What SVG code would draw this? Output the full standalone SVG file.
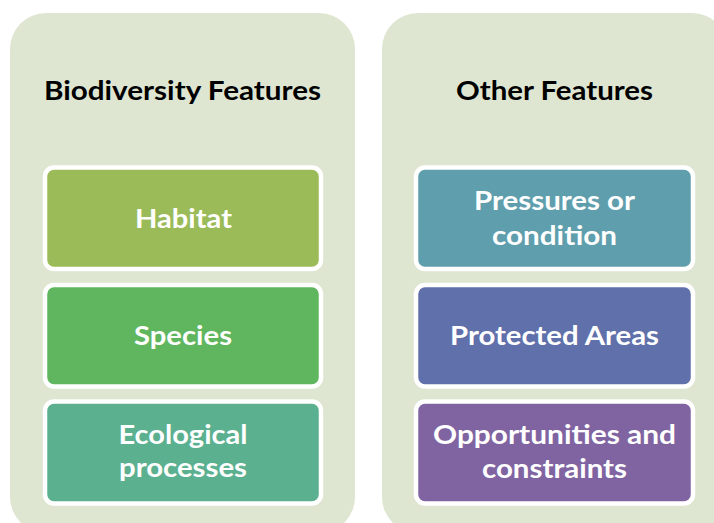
<svg xmlns="http://www.w3.org/2000/svg" width="714" height="523" viewBox="0 0 714 523">
<style>
.panel{fill:#DEE6D2}
.box{stroke:#FFFFFF;stroke-width:4.5}
.title{font-family:Lato,"Liberation Sans",sans-serif;font-weight:bold;font-size:26px;fill:#000000;text-anchor:middle}
.lbl{font-family:Lato,"Liberation Sans",sans-serif;font-weight:bold;font-size:26px;fill:#FFFFFF;text-anchor:middle}
</style>
<rect width="714" height="523" fill="#FFFFFF"/>
<g id="panel-biodiversity">
<rect class="panel" x="10" y="13" width="345" height="520" rx="36"/>
<text class="title" x="182.5" y="99.5" textLength="277" lengthAdjust="spacingAndGlyphs">Biodiversity Features</text>
</g>
<g id="panel-other">
<rect class="panel" x="382" y="13" width="346" height="520" rx="36"/>
<text class="title" x="554.5" y="99.5" textLength="197" lengthAdjust="spacingAndGlyphs">Other Features</text>
</g>
<g id="habitat">
<rect class="box" x="45" y="167.5" width="276" height="101.5" rx="9" fill="#9BBB59"/>
<text class="lbl" x="183.5" y="228" textLength="97" lengthAdjust="spacingAndGlyphs">Habitat</text>
</g>
<g id="species">
<rect class="box" x="45" y="285" width="276" height="101.5" rx="9" fill="#60B65E"/>
<text class="lbl" x="183" y="344.5" textLength="98" lengthAdjust="spacingAndGlyphs">Species</text>
</g>
<g id="ecological">
<rect class="box" x="45" y="401.5" width="276" height="102" rx="9" fill="#5BB08F"/>
<text class="lbl" x="183" y="443.5" textLength="129" lengthAdjust="spacingAndGlyphs">Ecological</text>
<text class="lbl" x="183" y="477" textLength="128" lengthAdjust="spacingAndGlyphs">processes</text>
</g>
<g id="pressures">
<rect class="box" x="416" y="167.5" width="277" height="101.5" rx="9" fill="#5F9EAD"/>
<text class="lbl" x="554.5" y="210" textLength="161" lengthAdjust="spacingAndGlyphs">Pressures or</text>
<text class="lbl" x="554.5" y="245" textLength="125" lengthAdjust="spacingAndGlyphs">condition</text>
</g>
<g id="protected">
<rect class="box" x="416" y="285" width="277" height="101.5" rx="9" fill="#6070AA"/>
<text class="lbl" x="554.5" y="345" textLength="209" lengthAdjust="spacingAndGlyphs">Protected Areas</text>
</g>
<g id="opportunities">
<rect class="box" x="416" y="401.5" width="277" height="102" rx="9" fill="#8064A2"/>
<text class="lbl" x="554.5" y="443.5" textLength="243" lengthAdjust="spacingAndGlyphs">Opportunities and</text>
<text class="lbl" x="554.5" y="478" textLength="145" lengthAdjust="spacingAndGlyphs">constraints</text>
</g>
<g id="connectors"/>
</svg>
